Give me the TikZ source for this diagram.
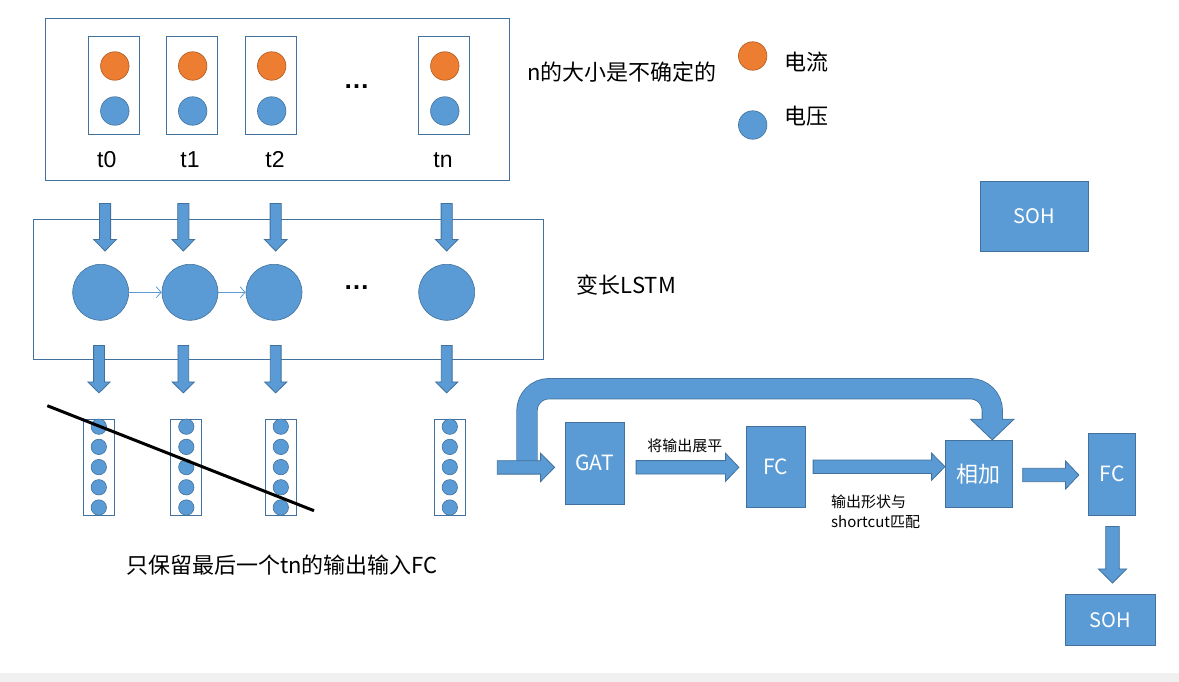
\documentclass[tikz,border=0pt]{standalone}
\usepackage{fontspec}
\setmainfont{Noto Sans CJK SC}
\newfontfamily\arialf{Liberation Sans}
\usetikzlibrary{calc,arrows.meta}
\definecolor{ppblue}{HTML}{5B9BD5}
\definecolor{ppline}{HTML}{41719C}
\definecolor{pporange}{HTML}{ED7D31}
\definecolor{pporline}{HTML}{AE5A21}

% block arrows: start, tip, half shaft, half head, head length
\newcommand{\blkright}[5]{%
  \draw[blk] let \p1=(#1), \p2=(#2) in
    (\x1,\y1+#3) -- (\x2-#5,\y1+#3) -- (\x2-#5,\y1+#4) -- (\x2,\y1)
    -- (\x2-#5,\y1-#4) -- (\x2-#5,\y1-#3) -- (\x1,\y1-#3) -- cycle;}
\newcommand{\blkdown}[5]{%
  \draw[blk] let \p1=(#1), \p2=(#2) in
    (\x1-#3,\y1) -- (\x1+#3,\y1) -- (\x1+#3,\y2+#5) -- (\x1+#4,\y2+#5) -- (\x1,\y2)
    -- (\x1-#4,\y2+#5) -- (\x1-#3,\y2+#5) -- cycle;}

\begin{document}
\begin{tikzpicture}[x=1pt,y=-1pt,
  frame/.style={draw=ppline, line width=0.8pt, inner sep=0pt},
  cell/.style={frame, minimum width=51pt, minimum height=98pt},
  cur/.style={circle, fill=pporange, draw=pporline, line width=0.6pt, minimum size=28.5pt, inner sep=0pt},
  vol/.style={circle, fill=ppblue, draw=ppline, line width=0.6pt, minimum size=28.5pt, inner sep=0pt},
  unit/.style={vol, minimum size=56pt},
  vec/.style={frame, minimum width=31pt, minimum height=96pt},
  elem/.style={vol, minimum size=15.4pt},
  block/.style={fill=ppblue, draw=ppline, line width=0.8pt, text=white, inner sep=0pt},
  blk/.style={fill=ppblue, draw=ppline, line width=0.8pt},
  zh/.style={font=\fontsize{22}{26}\selectfont, inner sep=0pt},
  small/.style={font=\fontsize{15}{20}\selectfont, inner sep=0pt},
  dots/.style={font=\arialf\bfseries\fontsize{26}{30}\selectfont, inner sep=0pt}]

\useasboundingbox (0,0) rectangle (1179,682);
\fill[gray!12] (0,673) rectangle (1179,682);

% input sequence
\node[frame, minimum width=464pt, minimum height=162pt] (seq) at (277.2,99.2) {};
\foreach \i/\x/\lx/\lab in {0/113.8/106.7/t0, 1/191.7/190/t1, 2/270.7/275/t2, 3/443.8/443/tn}{
  \node[cell] (s\i) at (\x,85.2) {};
  \node[cur] (i\i) at (\x+1,66) {};
  \node[vol] (u\i) at (\x+1,111) {};
  \node[font=\arialf\fontsize{23}{26}\selectfont, inner sep=0pt] (t\i) at (\lx,160) {\lab};
}
\node[dots] (dots1) at (356.7,87) {…};
\node[zh, anchor=west] (nnote) at (527,71.7) {n的大小是不确定的};

% legend
\node[cur] (kcur) at (752.7,56) {};
\node[vol] (kvol) at (752.7,125) {};
\node[zh, anchor=west] (lcur) at (784,61.7) {电流};
\node[zh, anchor=west] (lvol) at (784,116) {电压};

\node[block, minimum width=108pt, minimum height=70pt, font=\fontsize{20}{24}\selectfont] (soh1) at (1034.2,216) {SOH};

% LSTM
\node[frame, minimum width=510pt, minimum height=139.7pt] (lstm) at (288.3,289.2) {};
\foreach \i/\x in {0/100.7, 1/190, 2/274, 3/446.7}
  \node[unit] (l\i) at (\x,292.3) {};
\node[dots] (dots2) at (356.7,287.7) {…};
\draw[ppblue, line width=0.8pt, -{Straight Barb[length=5pt,width=11pt]}] (l0) -- (l1);
\draw[ppblue, line width=0.8pt, -{Straight Barb[length=5pt,width=11pt]}] (l1) -- (l2);
\node[zh, anchor=west] (lname) at (576.7,285) {变长LSTM};

% outputs per step
\foreach \i/\x in {0/98.8, 1/186.3, 2/280.8, 3/449.8}{
  \node[vec] (v\i) at (\x,467.3) {};
  \foreach \k in {0,...,4}
    \node[elem] (e\i\k) at (\x,426.7+20.2*\k) {};
}
\foreach \i/\dx in {0/4.3, 1/-6.7, 2/1.7, 3/0}
  \blkdown{$(seq.south -| l\i)+(\dx,23)$}{$(l\i.north)+(\dx,-13)$}{5.6pt}{11.3pt}{11.5pt};
\foreach \i/\dx in {0/-1.7, 1/-6.7, 2/1.7, 3/0}
  \blkdown{$(lstm.south -| l\i)+(\dx,-14)$}{$(v\i.north -| l\i)+(\dx,-26)$}{5.4pt}{11.2pt}{11pt};
\draw[line width=3pt] (47.3,405.7) -- (314,510.7);
\node[zh, anchor=west] (keep) at (126,565) {只保留最后一个tn的输出输入FC};

% GAT branch
\coordinate (in) at (497.3,467.4);
\node[block, minimum width=59pt, minimum height=82pt, font=\fontsize{21}{24}\selectfont] (gat) at (594.8,463.3) {GAT};
\node[block, minimum width=59pt, minimum height=80.7pt, font=\fontsize{21}{24}\selectfont] (fc1) at (775.5,466.7) {FC};
\node[block, minimum size=67pt, font=\fontsize{22}{26}\selectfont] (add) at (978.8,473.8) {相加};
\node[block, minimum width=47.4pt, minimum height=82pt, font=\fontsize{21}{24}\selectfont] (fc2) at (1112,474.3) {FC};
\node[block, minimum width=90.7pt, minimum height=51.3pt, font=\fontsize{20}{24}\selectfont] (soh2) at (1110.3,619.7) {SOH};

% shortcut
\coordinate (sctip) at ($(add.north)+(13.5,0)$);
\draw[blk] ($(sctip)+(-21.7,-20.7)$) -- ($(sctip)+(21.7,-20.7)$) -- (sctip) -- cycle;
\draw[ppline, line width=0.8pt, double=ppblue, double distance=19.6pt, rounded corners=22pt]
  ($(in)+(29.7,0)$) |- ($(sctip)+(0,-51.2)$) -- ($(sctip)+(0,-20)$);

\blkright{in}{$(gat.west)+(-10.3,0)$}{6.7pt}{14.2pt}{14pt};
\blkright{$(gat.east)+(11.4,4)$}{$(fc1.west)+(-6.7,0)$}{6.7pt}{14.2pt}{13.5pt};
\blkright{$(fc1.east)+(7.7,0)$}{add.west}{6.7pt}{13.6pt}{13.3pt};
\blkright{$(add.east)+(10,1.2)$}{$(fc2.west)+(-9,0)$}{6.7pt}{14.2pt}{13.5pt};
\blkdown{$(fc2.south)+(0.5,10.7)$}{$(soh2.north)+(0,-10.7)$}{6.8pt}{14.2pt}{14pt};

\node[small] (flat) at (684.8,445.3) {将输出展平};
\node[small, anchor=west, align=left] (match) at (831,511.7) {输出形状与\\shortcut匹配};
\end{tikzpicture}
\end{document}
